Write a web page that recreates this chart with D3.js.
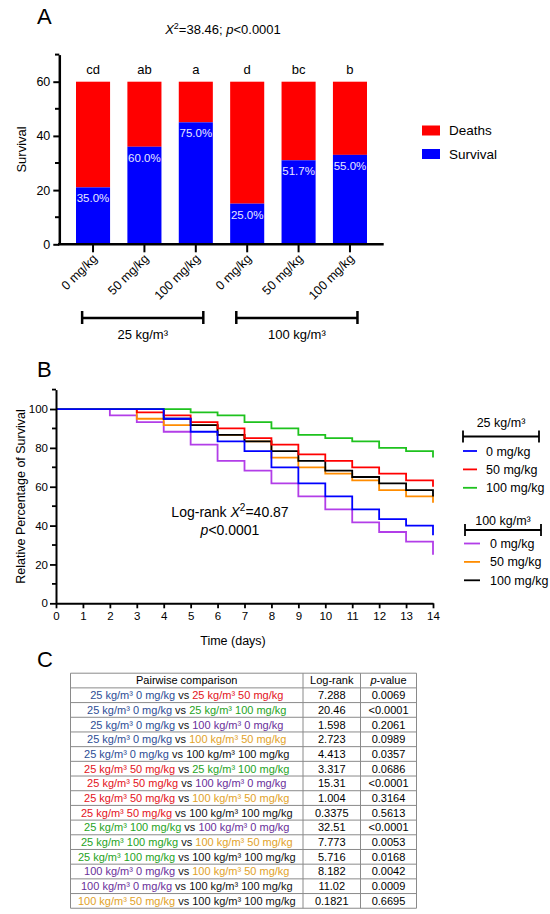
<!DOCTYPE html>
<html>
<head>
<meta charset="utf-8">
<script src="https://cdn.jsdelivr.net/npm/d3@7"></script>
<style>
  body { margin: 0; background: #fff; }
  text { font-family: "Liberation Sans", Arial, sans-serif; }
</style>
</head>
<body>
<svg id="fig" width="550" height="914"></svg>
<script>
// ---------- Panel A data ----------
const doseLabels = ["0 mg/kg", "50 mg/kg", "100 mg/kg", "0 mg/kg", "50 mg/kg", "100 mg/kg"];
const survivors = [21, 36, 45, 15, 31, 33];
const deaths = [39, 24, 15, 45, 29, 27];
const pctLabels = ["35.0%", "60.0%", "75.0%", "25.0%", "51.7%", "55.0%"];
const sigLetters = ["cd", "ab", "a", "d", "bc", "b"];
const densityGroups = ["25 kg/m³", "100 kg/m³"];

// ---------- Panel B data (survival %, day 0..14) ----------
const days = d3.range(0, 15);
const curveNames = ["0 mg/kg", "50 mg/kg", "100 mg/kg", "0 mg/kg", "50 mg/kg", "100 mg/kg"];
const s25_0 = [100, 100, 100, 100, 95, 88.3, 83.3, 78.3, 70, 61.7, 55, 48.3, 43.3, 40, 35];
const s25_50 = [100, 100, 100, 98.3, 96.7, 93.3, 90, 85, 81.7, 76.7, 73.3, 70, 66.7, 63.3, 60];
const s25_100 = [100, 100, 100, 100, 100, 98.3, 96.7, 93.3, 90, 86.7, 85, 83.3, 80, 78.3, 75];
const s100_0 = [100, 100, 96.7, 93.3, 88.3, 81.7, 73.3, 68.3, 61.7, 55, 48.3, 41.7, 36.7, 31.7, 25];
const s100_50 = [100, 100, 100, 95, 91.7, 91.7, 86.7, 83.3, 75, 70, 66.7, 63.3, 58.3, 55, 51.7];
const s100_100 = [100, 100, 100, 100, 95, 91.7, 86.7, 83.3, 78.3, 73.3, 68.3, 65, 61.7, 58.3, 55];
const yTicksB = [0, 20, 40, 60, 80, 100];

// ---------- Panel C data ----------
const compLeft = ["25/0", "25/0", "25/0", "25/0", "25/0", "25/50", "25/50", "25/50", "25/50",
                  "25/100", "25/100", "25/100", "100/0", "100/0", "100/50"];
const compRight = ["25/50", "25/100", "100/0", "100/50", "100/100", "25/100", "100/0", "100/50", "100/100",
                   "100/0", "100/50", "100/100", "100/50", "100/100", "100/100"];
const logRank = ["7.288", "20.46", "1.598", "2.723", "4.413", "3.317", "15.31", "1.004", "0.3375",
                 "32.51", "7.773", "5.716", "8.182", "11.02", "0.1821"];
const pValues = ["0.0069", "<0.0001", "0.2061", "0.0989", "0.0357", "0.0686", "<0.0001", "0.3164", "0.5613",
                 "<0.0001", "0.0053", "0.0168", "0.0042", "0.0009", "0.6695"];
const groupText = {
  "25/0": "25 kg/m³ 0 mg/kg", "25/50": "25 kg/m³ 50 mg/kg", "25/100": "25 kg/m³ 100 mg/kg",
  "100/0": "100 kg/m³ 0 mg/kg", "100/50": "100 kg/m³ 50 mg/kg", "100/100": "100 kg/m³ 100 mg/kg"
};
const tableColor = {
  "25/0": "#2d4d95", "25/50": "#e3121b", "25/100": "#1fa324",
  "100/0": "#6a2f9a", "100/50": "#e2a228", "100/100": "#111"
};

const svg = d3.select("#fig");

// =================== Panel A ===================
const gA = svg.append("g");
gA.append("text").attr("x", 37).attr("y", 24).attr("font-size", 22).text("A");

const title = gA.append("text").attr("x", 223).attr("y", 34).attr("text-anchor", "middle").attr("font-size", 13);
title.append("tspan").attr("font-style", "italic").text("X");
title.append("tspan").attr("dy", -5).attr("font-size", 9).text("2");
title.append("tspan").attr("dy", 5).text("=38.46; ");
title.append("tspan").attr("font-style", "italic").text("p");
title.append("tspan").text("<0.0001");

const xA = d3.scaleBand().domain(d3.range(6)).range([59.3, 383.7]).paddingInner(0.337).paddingOuter(0.325);
const yA = d3.scaleLinear().domain([0, 70]).range([244.3, 54.6]);

// stacked bars
gA.selectAll(".dead").data(deaths).join("rect")
  .attr("x", (d, i) => xA(i)).attr("width", xA.bandwidth())
  .attr("y", (d, i) => yA(survivors[i] + d)).attr("height", (d, i) => yA(survivors[i]) - yA(survivors[i] + d))
  .attr("fill", "#ff0000");
gA.selectAll(".surv").data(survivors).join("rect")
  .attr("x", (d, i) => xA(i)).attr("width", xA.bandwidth())
  .attr("y", d => yA(d)).attr("height", d => yA(0) - yA(d))
  .attr("fill", "#0000ff");
gA.selectAll(".pct").data(pctLabels).join("text")
  .attr("x", (d, i) => xA(i) + xA.bandwidth() / 2).attr("y", (d, i) => yA(survivors[i]) + 15)
  .attr("text-anchor", "middle").attr("font-size", 11.5).attr("fill", "#e8e8ff").text(d => d);
gA.selectAll(".sig").data(sigLetters).join("text")
  .attr("x", (d, i) => xA(i) + xA.bandwidth() / 2).attr("y", 74)
  .attr("text-anchor", "middle").attr("font-size", 13).text(d => d);

// y axis A
const yAxA = gA.append("g").attr("transform", "translate(59.3,0)")
  .call(d3.axisLeft(yA).tickValues([0, 20, 40, 60]).tickSize(6).tickSizeOuter(0).tickPadding(3));
yAxA.selectAll(".tick text").attr("font-size", 12.5).attr("font-family", "Liberation Sans, Arial, sans-serif");
yAxA.select(".domain").attr("stroke-width", 2.5);
yAxA.selectAll(".tick line").attr("stroke-width", 2);
gA.selectAll(".minorA").data([10, 30, 50, 70]).join("line")
  .attr("x1", 59.3).attr("x2", 55).attr("y1", d => yA(d)).attr("y2", d => yA(d))
  .attr("stroke", "#000").attr("stroke-width", 2);
gA.append("text").attr("transform", `translate(26,${(yA(0) + yA(70)) / 2}) rotate(-90)`)
  .attr("text-anchor", "middle").attr("font-size", 13).text("Survival");

// x axis A
gA.append("line").attr("x1", 58).attr("x2", 383.7).attr("y1", yA(0)).attr("y2", yA(0))
  .attr("stroke", "#000").attr("stroke-width", 2.5);
gA.selectAll(".xtA").data(doseLabels).join("line")
  .attr("x1", (d, i) => xA(i) + xA.bandwidth() / 2).attr("x2", (d, i) => xA(i) + xA.bandwidth() / 2)
  .attr("y1", yA(0)).attr("y2", yA(0) + 8).attr("stroke", "#000").attr("stroke-width", 2);
gA.selectAll(".xlA").data(doseLabels).join("text")
  .attr("transform", (d, i) => `translate(${xA(i) + xA.bandwidth() / 2 + 5},${yA(0) + 15}) rotate(-45)`)
  .attr("text-anchor", "end").attr("font-size", 12.5).text(d => d);

// group brackets
const bracketSpan = [[0, 2], [3, 5]];
bracketSpan.forEach((s, k) => {
  const x1 = xA(s[0]) + 0.18 * xA.bandwidth(), x2 = xA(s[1]) + 0.72 * xA.bandwidth(), yb = 318;
  gA.append("line").attr("x1", x1).attr("x2", x2).attr("y1", yb).attr("y2", yb).attr("stroke", "#000").attr("stroke-width", 2.5);
  [x1, x2].forEach(xx => gA.append("line").attr("x1", xx).attr("x2", xx).attr("y1", yb - 7).attr("y2", yb + 6)
    .attr("stroke", "#000").attr("stroke-width", 2.5));
  gA.append("text").attr("x", (x1 + x2) / 2).attr("y", 339).attr("text-anchor", "middle")
    .attr("font-size", 13).text(densityGroups[k]);
});

// legend A
const legA = [["Deaths", "#ff0000"], ["Survival", "#0000ff"]];
legA.forEach((l, i) => {
  gA.append("rect").attr("x", 422).attr("y", 125.5 + i * 23.5).attr("width", 18).attr("height", 10).attr("fill", l[1]);
  gA.append("text").attr("x", 449).attr("y", 135 + i * 23.5).attr("font-size", 13.5).text(l[0]);
});

// =================== Panel B ===================
const gB = svg.append("g");
gB.append("text").attr("x", 37).attr("y", 377).attr("font-size", 22).text("B");

const xB = d3.scaleLinear().domain([0, 14]).range([56, 433]);
const yB = d3.scaleLinear().domain([0, 110]).range([603.3, 389.6]);

const line = d3.line().curve(d3.curveStepAfter).x((d, i) => xB(days[i])).y(d => yB(d));
const curves = [
  { v: s100_0, c: "#b23ee8" },
  { v: s100_50, c: "#ff8c00" },
  { v: s100_100, c: "#000000" },
  { v: s25_50, c: "#ff0000" },
  { v: s25_100, c: "#1ec21e" },
  { v: s25_0, c: "#0000ff" }
];
gB.selectAll(".km").data(curves).join("path")
  .attr("d", d => line(d.v)).attr("fill", "none").attr("stroke", d => d.c).attr("stroke-width", 1.8);

const yAxB = gB.append("g").attr("transform", "translate(56,0)")
  .call(d3.axisLeft(yB).tickValues(yTicksB).tickSize(6).tickSizeOuter(0).tickPadding(2));
yAxB.selectAll(".tick text").attr("font-size", 11.5).attr("font-family", "Liberation Sans, Arial, sans-serif");
yAxB.select(".domain").attr("stroke-width", 2);
yAxB.selectAll(".tick line").attr("stroke-width", 1.8);
gB.selectAll(".minorB").data([10, 30, 50, 70, 90, 110]).join("line")
  .attr("x1", 56).attr("x2", 52).attr("y1", d => yB(d)).attr("y2", d => yB(d))
  .attr("stroke", "#000").attr("stroke-width", 1.8);

const xAxB = gB.append("g").attr("transform", `translate(0,${yB(0)})`)
  .call(d3.axisBottom(xB).tickValues(days).tickSize(5).tickSizeOuter(0).tickPadding(4));
xAxB.selectAll(".tick text").attr("font-size", 11.5).attr("font-family", "Liberation Sans, Arial, sans-serif");
xAxB.select(".domain").attr("stroke-width", 2);
xAxB.selectAll(".tick line").attr("stroke-width", 1.8);

gB.append("text").attr("x", 233).attr("y", 645).attr("text-anchor", "middle").attr("font-size", 12.5).text("Time (days)");
gB.append("text").attr("transform", `translate(25,${(yB(0) + yB(110)) / 2}) rotate(-90)`)
  .attr("text-anchor", "middle").attr("font-size", 12.5).text("Relative Percentage of Survival");

const ann = gB.append("text").attr("x", 230).attr("y", 517).attr("text-anchor", "middle").attr("font-size", 14);
ann.append("tspan").text("Log-rank ");
ann.append("tspan").attr("font-style", "italic").text("X");
ann.append("tspan").attr("dy", -6).attr("font-size", 10).text("2");
ann.append("tspan").attr("dy", 6).text("=40.87");
const ann2 = gB.append("text").attr("x", 230).attr("y", 535).attr("text-anchor", "middle").attr("font-size", 14);
ann2.append("tspan").attr("font-style", "italic").text("p");
ann2.append("tspan").text("<0.0001");

// legend B
const legGroups = [
  { title: densityGroups[0], ty: 427, by: 436.5, x1: 463, x2: 539, items: [0, 1, 2], y0: 451, tx: 486, sx: [463, 477] },
  { title: densityGroups[1], ty: 525, by: 530, x1: 465, x2: 541, items: [3, 4, 5], y0: 543.5, tx: 490, sx: [464, 480] }
];
const legColors = ["#0000ff", "#ff0000", "#1ec21e", "#b23ee8", "#ff8c00", "#000000"];
legGroups.forEach(g => {
  gB.append("text").attr("x", (g.x1 + g.x2) / 2).attr("y", g.ty).attr("text-anchor", "middle").attr("font-size", 12.5).text(g.title);
  gB.append("line").attr("x1", g.x1).attr("x2", g.x2).attr("y1", g.by).attr("y2", g.by).attr("stroke", "#000").attr("stroke-width", 1.8);
  [g.x1, g.x2].forEach(xx => gB.append("line").attr("x1", xx).attr("x2", xx).attr("y1", g.by - 6).attr("y2", g.by + 6)
    .attr("stroke", "#000").attr("stroke-width", 1.8));
  g.items.forEach((k, j) => {
    const yy = g.y0 + j * 18.4;
    gB.append("line").attr("x1", g.sx[0]).attr("x2", g.sx[1]).attr("y1", yy).attr("y2", yy)
      .attr("stroke", legColors[k]).attr("stroke-width", 1.8);
    gB.append("text").attr("x", g.tx).attr("y", yy + 4.5).attr("font-size", 12.5).text(curveNames[k]);
  });
});

// =================== Panel C ===================
const gC = svg.append("g");
gC.append("text").attr("x", 37).attr("y", 667).attr("font-size", 22).text("C");

const colX = [70.5, 303, 360.5, 416.5];
const rowH = 14.69, tableTop = 673.2;
const nRows = logRank.length + 1;

// grid
d3.range(nRows + 1).forEach(r => {
  gC.append("line").attr("x1", colX[0]).attr("x2", colX[3]).attr("y1", tableTop + r * rowH).attr("y2", tableTop + r * rowH)
    .attr("stroke", "#8a8a8a").attr("stroke-width", 1);
});
colX.forEach(cx => {
  gC.append("line").attr("x1", cx).attr("x2", cx).attr("y1", tableTop).attr("y2", tableTop + nRows * rowH)
    .attr("stroke", "#8a8a8a").attr("stroke-width", 1);
});

const fsC = 11;
const rowY = r => tableTop + r * rowH + rowH / 2 + 3.9;
gC.append("text").attr("x", (colX[0] + colX[1]) / 2).attr("y", rowY(0)).attr("text-anchor", "middle").attr("font-size", fsC).text("Pairwise comparison");
gC.append("text").attr("x", (colX[1] + colX[2]) / 2).attr("y", rowY(0)).attr("text-anchor", "middle").attr("font-size", fsC).text("Log-rank");
const ph = gC.append("text").attr("x", (colX[2] + colX[3]) / 2).attr("y", rowY(0)).attr("text-anchor", "middle").attr("font-size", fsC);
ph.append("tspan").attr("font-style", "italic").text("p");
ph.append("tspan").text("-value");

compLeft.forEach((a, i) => {
  const b = compRight[i];
  const t = gC.append("text").attr("x", (colX[0] + colX[1]) / 2).attr("y", rowY(i + 1)).attr("text-anchor", "middle").attr("font-size", fsC);
  t.append("tspan").attr("fill", tableColor[a]).text(groupText[a]);
  t.append("tspan").attr("fill", "#111").text(" vs ");
  t.append("tspan").attr("fill", tableColor[b]).text(groupText[b]);
  gC.append("text").attr("x", (colX[1] + colX[2]) / 2).attr("y", rowY(i + 1)).attr("text-anchor", "middle").attr("font-size", fsC).text(logRank[i]);
  gC.append("text").attr("x", (colX[2] + colX[3]) / 2).attr("y", rowY(i + 1)).attr("text-anchor", "middle").attr("font-size", fsC).text(pValues[i]);
});
</script>
</body>
</html>
